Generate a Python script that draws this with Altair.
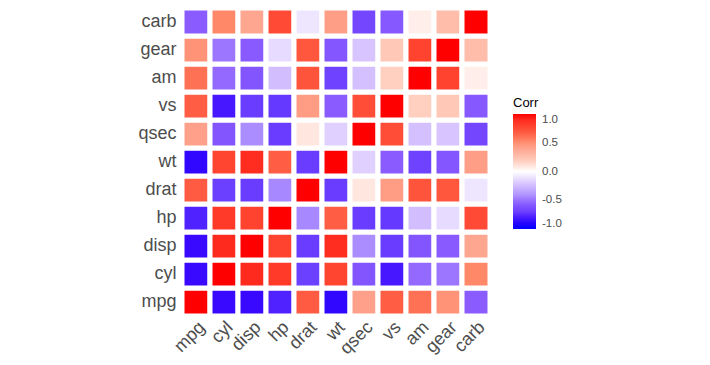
import altair as alt
import pandas as pd

variables = ["mpg", "cyl", "disp", "hp", "drat", "wt", "qsec", "vs", "am", "gear", "carb"]

corr_mpg  = [1.00, -0.85, -0.85, -0.78, 0.68, -0.87, 0.42, 0.66, 0.60, 0.48, -0.55]
corr_cyl  = [-0.85, 1.00, 0.90, 0.83, -0.70, 0.78, -0.59, -0.81, -0.52, -0.49, 0.53]
corr_disp = [-0.85, 0.90, 1.00, 0.79, -0.71, 0.89, -0.43, -0.71, -0.59, -0.56, 0.39]
corr_hp   = [-0.78, 0.83, 0.79, 1.00, -0.45, 0.66, -0.71, -0.72, -0.24, -0.13, 0.75]
corr_drat = [0.68, -0.70, -0.71, -0.45, 1.00, -0.71, 0.09, 0.44, 0.71, 0.70, -0.09]
corr_wt   = [-0.87, 0.78, 0.89, 0.66, -0.71, 1.00, -0.17, -0.55, -0.69, -0.58, 0.43]
corr_qsec = [0.42, -0.59, -0.43, -0.71, 0.09, -0.17, 1.00, 0.74, -0.23, -0.21, -0.66]
corr_vs   = [0.66, -0.81, -0.71, -0.72, 0.44, -0.55, 0.74, 1.00, 0.17, 0.21, -0.57]
corr_am   = [0.60, -0.52, -0.59, -0.24, 0.71, -0.69, -0.23, 0.17, 1.00, 0.79, 0.06]
corr_gear = [0.48, -0.49, -0.56, -0.13, 0.70, -0.58, -0.21, 0.21, 0.79, 1.00, 0.27]
corr_carb = [-0.55, 0.53, 0.39, 0.75, -0.09, 0.43, -0.66, -0.57, 0.06, 0.27, 1.00]

rows = [corr_mpg, corr_cyl, corr_disp, corr_hp, corr_drat, corr_wt,
        corr_qsec, corr_vs, corr_am, corr_gear, corr_carb]

legend_values = [-1, -0.5, 0, 0.5, 1]

# colour stops of the diverging blue-white-red scale
color_stops = [-1.0, -0.85, -0.7, -0.55, -0.45, -0.2, 0.0,
               0.17, 0.42, 0.53, 0.66, 0.78, 0.9, 1.0]
color_values = ["#0000FF", "#3808FF", "#6C40FF", "#8A5CFF", "#A888FF", "#DAC8FF", "#FFFFFF",
                "#FFD0C0", "#FFA08A", "#FF8868", "#FF5E45", "#FF4530", "#FF2A1E", "#FF0000"]

records = []
for yv, row in zip(variables, rows):
    for xv, val in zip(variables, row):
        records.append({"Var1": xv, "Var2": yv, "Corr": val})
df = pd.DataFrame(records)

FONT = "Liberation Sans"

chart = alt.Chart(df).mark_rect(stroke="white", strokeWidth=5).encode(
    x=alt.X("Var1:N", sort=variables, title=None,
            scale=alt.Scale(paddingInner=0, paddingOuter=0),
            axis=alt.Axis(labelAngle=-45, labelAlign="right", labelBaseline="top",
                          labelFontSize=18, labelColor="#4D4D4D", labelFont=FONT,
                          domain=False, ticks=False, labelPadding=2, grid=False)),
    y=alt.Y("Var2:N", sort=variables[::-1], title=None,
            scale=alt.Scale(paddingInner=0, paddingOuter=0),
            axis=alt.Axis(labelFontSize=18, labelColor="#4D4D4D", labelFont=FONT,
                          domain=False, ticks=False, labelPadding=6, grid=False)),
    color=alt.Color("Corr:Q",
                    scale=alt.Scale(domain=color_stops, range=color_values,
                                    interpolate="rgb"),
                    legend=alt.Legend(title="Corr", orient="none", legendX=331, legendY=89,
                                      values=legend_values,
                                      labelExpr="replace(format(datum.value, '.1f'), '\u2212', '-')",
                                      gradientLength=115, gradientThickness=23,
                                      titleFontSize=13, titleFontWeight="normal", titleFont=FONT,
                                      titleColor="#000000", labelFont=FONT, labelFontSize=11.5,
                                      labelColor="#4D4D4D", labelOffset=6, titlePadding=4)),
).properties(
    width=308, height=308,
    autosize=alt.AutoSizeParams(type="none"),
    padding={"left": 174, "top": 0, "right": 212, "bottom": 49},
).configure_view(stroke=None)

chart.save("out.html", embed_options={"renderer": "svg", "actions": False})
